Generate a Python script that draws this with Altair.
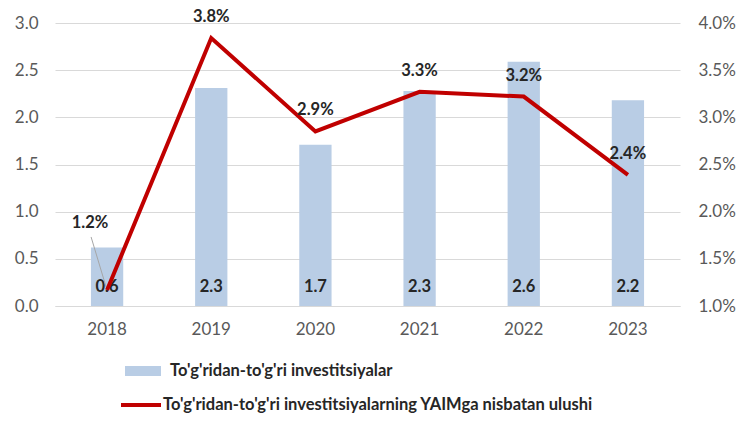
import altair as alt
import pandas as pd

years = ["2018", "2019", "2020", "2021", "2022", "2023"]
fdi = [0.62, 2.31, 1.71, 2.28, 2.59, 2.18]
fdi_labels = ["0.6", "2.3", "1.7", "2.3", "2.6", "2.2"]
share = [1.17, 3.84, 2.85, 3.27, 3.22, 2.39]
share_labels = ["1.2%", "3.8%", "2.9%", "3.3%", "3.2%", "2.4%"]

bar_name = "To'g'ridan-to'g'ri investitsiyalar"
line_name = "To'g'ridan-to'g'ri investitsiyalarning YAIMga nisbatan ulushi"

df = pd.DataFrame({
    "year": years,
    "fdi": fdi,
    "fdi_label": fdi_labels,
    "share": share,
    "share_label": share_labels,
})

FONT = "Lato"
LABEL_COLOR = "#595959"
TEXT_COLOR = "#262626"
AX_FS = 17
LBL_FS = 16.5
LEG_FS = 16.5

base = alt.Chart(df).transform_calculate(zero="0", s1=f'"{bar_name}"', s2=f'"{line_name}"')

x = alt.X(
    "year:N",
    title=None,
    scale=alt.Scale(paddingInner=0.69, paddingOuter=0.345),
    axis=alt.Axis(labelAngle=0, ticks=False, domain=True, domainColor="#d9d9d9",
                  domainWidth=1.2, labelPadding=15, labelFontSize=AX_FS,
                  labelColor=LABEL_COLOR, labelFont=FONT, grid=False),
)

left_scale = alt.Scale(domain=[0, 3], nice=False)
right_scale = alt.Scale(domain=[1, 4], nice=False)

left_axis = alt.Axis(values=[0, 0.5, 1, 1.5, 2, 2.5, 3], format=".1f", grid=True,
                     gridColor="#d9d9d9", gridWidth=1.2, domain=False, ticks=False,
                     labelFontSize=AX_FS, labelColor=LABEL_COLOR, labelFont=FONT,
                     labelPadding=17)
right_axis = alt.Axis(orient="right", values=[1, 1.5, 2, 2.5, 3, 3.5, 4],
                      labelExpr="format(datum.value, '.1f') + '%'", grid=False,
                      domain=False, domainOpacity=0, ticks=False, labelFontSize=AX_FS,
                      labelColor=LABEL_COLOR, labelFont=FONT, labelPadding=18)

bars = base.mark_bar().encode(
    x=x,
    y=alt.Y("fdi:Q", title=None, scale=left_scale, axis=left_axis),
    fill=alt.Fill("s1:N", title=None,
                  scale=alt.Scale(domain=[bar_name], range=["#b9cde5"]),
                  legend=alt.Legend(orient="none", legendX=70, legendY=330,
                                    symbolType="M-1,-0.28H1V0.28H-1Z", symbolSize=1296,
                                    symbolStrokeWidth=0, labelOffset=9, padding=0,
                                    labelFont=FONT, labelFontSize=LEG_FS,
                                    labelFontWeight="bold", labelColor=TEXT_COLOR,
                                    labelLimit=700)),
)

bar_text = base.mark_text(dy=-19, baseline="middle", font=FONT, fontSize=LBL_FS,
                          fontWeight="bold", color=TEXT_COLOR).encode(
    x=x,
    y=alt.Y("zero:Q", title=None, scale=left_scale, axis=left_axis),
    text="fdi_label:N",
)

left = alt.layer(bars, bar_text)

line = base.mark_line(strokeWidth=4).encode(
    x=x,
    y=alt.Y("share:Q", title=None, scale=right_scale, axis=right_axis),
    stroke=alt.Stroke("s2:N", title=None,
                      scale=alt.Scale(domain=[line_name], range=["#c00000"]),
                      legend=alt.Legend(orient="none", legendX=64, legendY=360,
                                        symbolType="stroke", symbolSize=1600,
                                        symbolStrokeWidth=4, labelOffset=0, padding=0,
                                        labelFont=FONT, labelFontSize=LEG_FS,
                                        labelFontWeight="bold", labelColor=TEXT_COLOR,
                                        labelLimit=700)),
)

pct_text = base.transform_filter("datum.year != '2018'").mark_text(
    dy=-21, baseline="middle", font=FONT, fontSize=LBL_FS, fontWeight="bold",
    color=TEXT_COLOR
).encode(
    x=x,
    y=alt.Y("share:Q", title=None, scale=right_scale, axis=right_axis),
    text="share_label:N",
)

pct_text_first = base.transform_filter("datum.year == '2018'").mark_text(
    dx=-17, dy=-67, baseline="middle", font=FONT, fontSize=LBL_FS, fontWeight="bold",
    color=TEXT_COLOR
).encode(
    x=x,
    y=alt.Y("share:Q", title=None, scale=right_scale, axis=right_axis),
    text="share_label:N",
)

leader = base.transform_filter("datum.year == '2018'").mark_rule(
    color="#a6a6a6", strokeWidth=1, xOffset=-16, yOffset=-53, x2Offset=-1, y2Offset=-3
).encode(
    x=x,
    x2="year:N",
    y=alt.Y("share:Q", title=None, scale=right_scale, axis=right_axis),
    y2="share:Q",
)

right = alt.layer(leader, line, pct_text, pct_text_first)

chart = alt.layer(left, right).resolve_scale(y="independent", fill="independent",
                                              stroke="independent").properties(
    width=625,
    height=283,
    background="white",
    autosize=alt.AutoSizeParams(type="none"),
    padding={"left": 47, "top": 15, "right": 62, "bottom": 121},
).configure_view(strokeWidth=0, stroke="transparent").configure_axisY(
    domain=False
).configure_axisRight(domain=False, domainOpacity=0)

chart.save("out.html", embed_options={"renderer": "svg", "actions": False})
